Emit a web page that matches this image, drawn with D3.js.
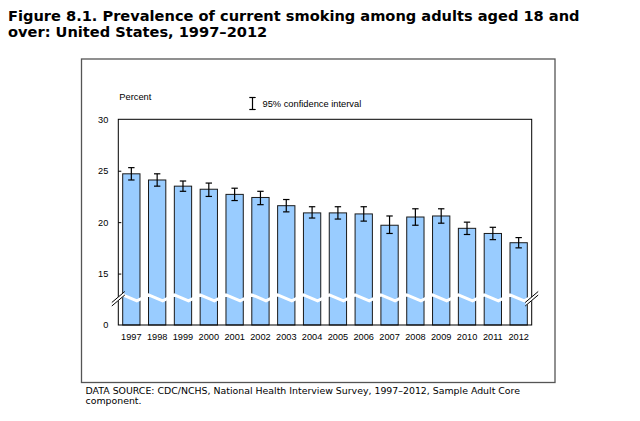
<!DOCTYPE html>
<html lang="en">
<head>
    <meta charset="UTF-8">
    <title>Figure 8.1</title>
    <script src="https://d3js.org/d3.v7.min.js"></script>
    <style>
        body { margin: 0; background: #fff; }
        .title { font-family: "DejaVu Sans", Verdana, sans-serif; font-weight: bold; font-size: 14.6px; fill: #000; }
        .note { font-family: "DejaVu Sans", Verdana, sans-serif; font-size: 9.4px; fill: #000; }
        .lbl { font-family: "Liberation Sans", Arial, sans-serif; font-size: 9.3px; fill: #000; }
        .axis text { font-family: "Liberation Sans", Arial, sans-serif; font-size: 9.2px; fill: #000; }
        .axis path { display: none; }
        .axis line { stroke: #000; }
        .bar { fill: #99ccff; stroke: #1a1a1a; stroke-width: 1; }
        .err { stroke: #000; stroke-width: 1.2; fill: none; }
    </style>
</head>
<body>
    <svg width="640" height="421"></svg>
    <script>
        // data
        var years = ["1997", "1998", "1999", "2000", "2001", "2002", "2003", "2004",
                     "2005", "2006", "2007", "2008", "2009", "2010", "2011", "2012"];
        var prevalence = [24.7, 24.1, 23.5, 23.2, 22.7, 22.4, 21.6, 20.9,
                          20.9, 20.8, 19.7, 20.5, 20.6, 19.4, 18.9, 18.0];
        var ciLow  = [24.1, 23.5, 23.0, 22.5, 22.1, 21.7, 21.0, 20.4,
                      20.3, 20.1, 18.9, 19.7, 19.9, 18.8, 18.3, 17.5];
        var ciHigh = [25.3, 24.7, 24.0, 23.8, 23.3, 23.0, 22.2, 21.5,
                      21.5, 21.5, 20.6, 21.3, 21.3, 20.0, 19.5, 18.5];
        // the axis is broken: the bottom tick (drawn at 10) is labelled 0
        var tickValues = [10, 15, 20, 25, 30];
        var tickLabels = ["0", "15", "20", "25", "30"];

        var data = years.map(function (y, i) {
            return {year: y, value: prevalence[i], lo: ciLow[i], hi: ciHigh[i]};
        });

        var svg = d3.select("svg");
        var plot = {left: 118.3, right: 531.7, top: 119.3, bottom: 325};

        var x = d3.scaleBand().domain(years).range([plot.left, plot.right]).paddingInner(0.33).paddingOuter(0.17);
        var y = d3.scaleLinear().domain([10, 30]).range([plot.bottom, plot.top]);

        // title
        svg.append("text").attr("class", "title").attr("x", 8).attr("y", 20.5)
            .text("Figure 8.1. Prevalence of current smoking among adults aged 18 and");
        svg.append("text").attr("class", "title").attr("x", 8).attr("y", 37)
            .text("over: United States, 1997\u20132012");

        // outer frame
        svg.append("rect")
            .attr("x", 81.5).attr("y", 59).attr("width", 473.5).attr("height", 323.5)
            .attr("fill", "none").attr("stroke", "#555").attr("stroke-width", 1.3);

        // bars
        svg.selectAll(".bar")
            .data(data)
            .enter().append("rect")
            .attr("class", "bar")
            .attr("x", function (d) { return x(d.year); })
            .attr("y", function (d) { return y(d.value); })
            .attr("width", x.bandwidth())
            .attr("height", function (d) { return y(10) - y(d.value); });

        // error bars
        var cap = 3.2;
        var eb = svg.selectAll(".eb").data(data).enter().append("g").attr("class", "err");
        eb.append("line")
            .attr("x1", function (d) { return x(d.year) + x.bandwidth() / 2; })
            .attr("x2", function (d) { return x(d.year) + x.bandwidth() / 2; })
            .attr("y1", function (d) { return y(d.lo); })
            .attr("y2", function (d) { return y(d.hi); });
        eb.append("line")
            .attr("x1", function (d) { return x(d.year) + x.bandwidth() / 2 - cap; })
            .attr("x2", function (d) { return x(d.year) + x.bandwidth() / 2 + cap; })
            .attr("y1", function (d) { return y(d.hi); })
            .attr("y2", function (d) { return y(d.hi); });
        eb.append("line")
            .attr("x1", function (d) { return x(d.year) + x.bandwidth() / 2 - cap; })
            .attr("x2", function (d) { return x(d.year) + x.bandwidth() / 2 + cap; })
            .attr("y1", function (d) { return y(d.lo); })
            .attr("y2", function (d) { return y(d.lo); });

        // wavy break across the bars
        svg.append("clipPath").attr("id", "clip")
            .append("rect")
            .attr("x", plot.left).attr("y", plot.top)
            .attr("width", plot.right - plot.left).attr("height", plot.bottom - plot.top);
        var step = x.step();
        var wave = [];
        for (var k = -1; k <= years.length; k++) {
            var bx = x(years[0]) + k * step;
            wave.push([bx, 294.8]);
            wave.push([bx + step * 0.55, 300.8]);
        }
        svg.append("path")
            .attr("clip-path", "url(#clip)")
            .attr("d", d3.line()(wave))
            .attr("fill", "none")
            .attr("stroke", "#fff")
            .attr("stroke-width", 3);

        // plot box
        svg.append("rect")
            .attr("x", plot.left).attr("y", plot.top)
            .attr("width", plot.right - plot.left).attr("height", plot.bottom - plot.top)
            .attr("fill", "none").attr("stroke", "#000").attr("stroke-width", 1);

        // axis break marks
        function breakMark(cx) {
            var g = svg.append("g");
            g.append("path")
                .attr("d", "M" + (cx - 6) + ",302 L" + (cx + 6) + ",292 L" + (cx + 6) + ",296 L" + (cx - 6) + ",306 Z")
                .attr("fill", "#fff");
            g.append("line").attr("x1", cx - 6.5).attr("y1", 302.5).attr("x2", cx + 6.5).attr("y2", 291.5)
                .attr("stroke", "#000").attr("stroke-width", 1);
            g.append("line").attr("x1", cx - 6.5).attr("y1", 306).attr("x2", cx + 6.5).attr("y2", 295)
                .attr("stroke", "#000").attr("stroke-width", 1);
        }
        breakMark(plot.left);
        breakMark(plot.right);

        // y axis
        svg.append("g")
            .attr("class", "axis")
            .attr("transform", "translate(" + plot.left + ",0)")
            .call(d3.axisLeft(y).tickValues(tickValues)
                .tickFormat(function (d, i) { return tickLabels[i]; })
                .tickSizeInner(-3).tickSizeOuter(0).tickPadding(10))
            .selectAll(".tick").filter(function (d) { return d === 10 || d === 30; })
            .select("line").remove();

        // x axis
        svg.append("g")
            .attr("class", "axis")
            .attr("transform", "translate(0," + plot.bottom + ")")
            .call(d3.axisBottom(x).tickSize(0).tickPadding(8));

        svg.append("text").attr("class", "lbl").attr("x", 119.3).attr("y", 100).text("Percent");

        // legend
        var lx = 252.5;
        svg.append("line").attr("class", "err").attr("x1", lx).attr("x2", lx).attr("y1", 97.5).attr("y2", 109.5);
        svg.append("line").attr("class", "err").attr("x1", lx - 3.2).attr("x2", lx + 3.2).attr("y1", 97.5).attr("y2", 97.5);
        svg.append("line").attr("class", "err").attr("x1", lx - 3.2).attr("x2", lx + 3.2).attr("y1", 109.5).attr("y2", 109.5);
        svg.append("text").attr("class", "lbl").attr("x", 262.5).attr("y", 106.5).text("95% confidence interval");

        // footer
        svg.append("text").attr("class", "note").attr("x", 85.5).attr("y", 393.5)
            .text("DATA SOURCE: CDC/NCHS, National Health Interview Survey, 1997\u20132012, Sample Adult Core");
        svg.append("text").attr("class", "note").attr("x", 85.5).attr("y", 404)
            .text("component.");
    </script>
</body>
</html>
